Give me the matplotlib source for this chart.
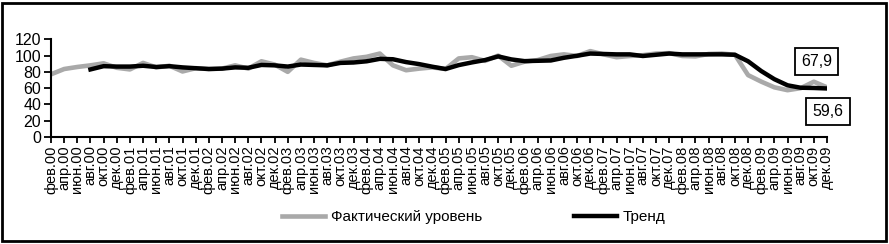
import matplotlib
matplotlib.use("Agg")
import matplotlib.pyplot as plt
from matplotlib.patches import Rectangle
import numpy as np

months = ["фев", "апр", "июн", "авг", "окт", "дек"]
years = ["00", "01", "02", "03", "04", "05", "06", "07", "08", "09"]
categories = [f"{m}.{y}" for y in years for m in months]

actual = [77, 83.5, 86, 88, 90.5, 85, 83, 91, 85.5, 87.5,
          80.5, 84.5, 83.5, 84, 88, 84, 93, 89, 80, 95,
          91, 88, 92.5, 96.5, 98.5, 102.5, 88, 82, 84, 85.5,
          83.5, 96.5, 98, 93.5, 100, 87.5, 92.5, 94.5, 99.5, 101.5,
          99.5, 105.5, 101.5, 98, 99.5, 100.5, 102.5, 103, 99.5, 99,
          102, 102.5, 101, 76, 68, 61, 57.5, 60, 67.9, 61]

trend = [None, None, None, 83, 87, 86.5, 86.5, 87.5, 86, 87,
         85.5, 84.5, 83.5, 84, 85.5, 85, 88.5, 88, 86.5, 89,
         88.5, 88, 91, 91.5, 93, 96, 95.5, 92, 89.5, 86.3,
         83.5, 88.3, 91.6, 94.5, 99, 95.3, 93.2, 93.6, 94, 97.3,
         99.8, 102.5, 102, 101.5, 101.5, 99.5, 101, 102.5, 101.5, 101.5,
         101.5, 101.5, 101, 93, 81, 71, 63.5, 60.5, 60.2, 59.6]

label_actual = "Фактический уровень"
label_trend = "Тренд"
note_actual = "67,9"
note_trend = "59,6"

plt.rcParams['font.family'] = ['Liberation Sans', 'DejaVu Sans']

fig = plt.figure(figsize=(8.89, 2.44), dpi=100)
ax = fig.add_axes([51/889, 1-137/244, (827-51)/889, (137-39.3)/244])

x = np.arange(len(categories))
tr = np.array([np.nan if v is None else v for v in trend], dtype=float)

l1, = ax.plot(x, actual, color="#a9a9a9", lw=3.3, solid_joinstyle="round", label=label_actual)
l2, = ax.plot(x, tr, color="black", lw=3.2, solid_joinstyle="round", label=label_trend)

ax.set_xlim(0, len(categories) - 1)
ax.set_ylim(0, 120)
ax.set_yticks(np.arange(0, 121, 20))
ax.set_xticks(x)
ax.set_xticklabels(categories, rotation=90, fontsize=10.5)
ax.tick_params(axis='y', labelsize=11.5, length=5, width=1.3, pad=2)
ax.tick_params(axis='x', length=4, width=1.3, pad=2)
for s in ["top", "right"]:
    ax.spines[s].set_visible(False)
for s in ["left", "bottom"]:
    ax.spines[s].set_linewidth(1.5)

bbox = dict(boxstyle="square,pad=0.4", fc="white", ec="black", lw=1.3)
ax.annotate(note_actual, xy=(58.2, 92.6), ha="center", va="center", fontsize=11.5,
            bbox=bbox, annotation_clip=False)
ax.annotate(note_trend, xy=(59.05, 31.3), ha="center", va="center", fontsize=11.5,
            bbox=bbox, annotation_clip=False)

fig.legend(handles=[l1, l2], loc="center", bbox_to_anchor=(474/889, 1-217/244),
           ncol=2, frameon=False, fontsize=11, handlelength=2.8, handletextpad=0.4,
           columnspacing=6.0)

fig.patches.append(Rectangle((2/889, 3/244), 884/889, 238/244, transform=fig.transFigure,
                             fill=False, ec="black", lw=2))

fig.savefig("out.png", dpi=100)
